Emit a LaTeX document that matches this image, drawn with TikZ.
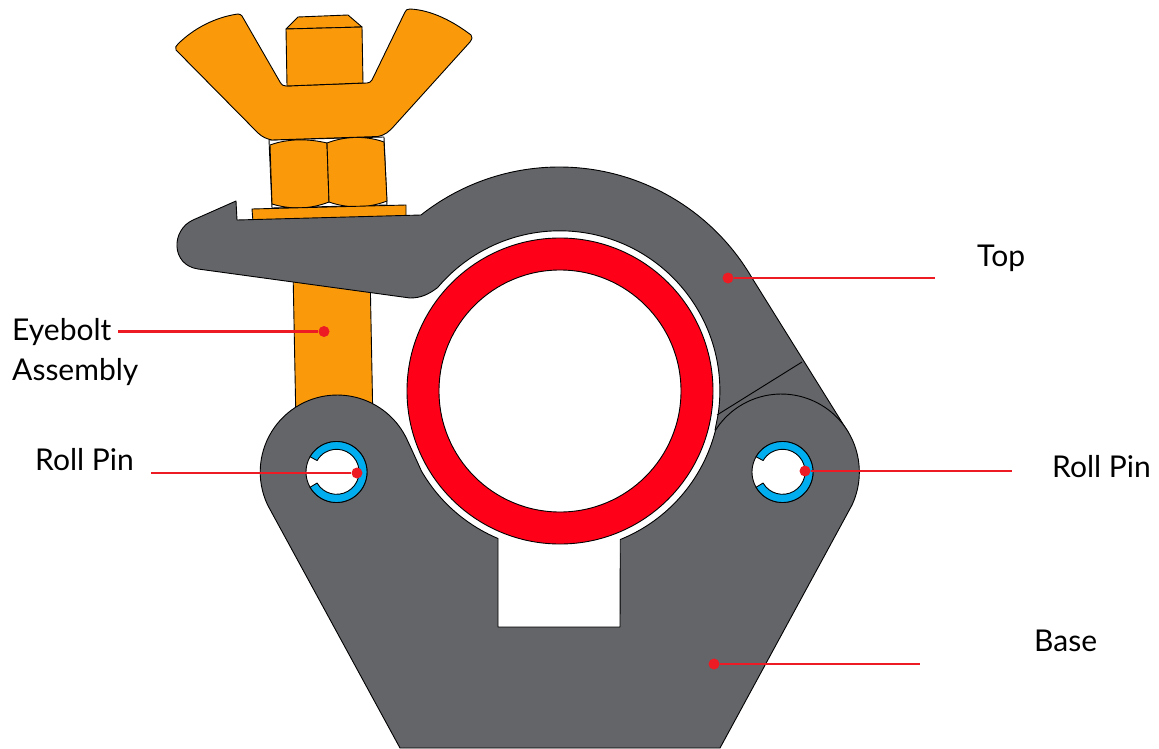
\documentclass[tikz,border=0pt]{standalone}
\usepackage{fontspec}
\setmainfont{Lato}
\definecolor{clampgray}{HTML}{636569}
\definecolor{boltorange}{HTML}{FA9A0A}
\definecolor{ringred}{HTML}{FF0019}
\definecolor{pinblue}{HTML}{00AEEF}
\definecolor{leadred}{HTML}{ED1C24}
\tikzset{
  outline/.style={draw=black,line width=0.9pt,line join=round},
  orangepart/.style={outline,fill=boltorange},
  graypart/.style={outline,fill=clampgray},
  bluepart/.style={outline,fill=pinblue},
  lead/.style={draw=leadred,line width=2.3pt},
  leaddot/.style={circle,fill=leadred,inner sep=0pt,minimum size=11pt},
  lbl/.style={font=\fontsize{30}{38}\selectfont,inner sep=0pt,anchor=west},
}
\begin{document}
\begin{tikzpicture}[x=1pt,y=1pt,yscale=-1]
\useasboundingbox (0,0) rectangle (1159,749);
% eyebolt shaft
\path[orangepart] (293,270) -- (296,425) -- (373,425) -- (370,270) -- cycle;
% hex nuts
\path[outline,fill=white] (269,140) -- (384,137) -- (387,205) -- (272,208) -- cycle;
\path[orangepart] (270,145) .. controls (288,138.5) and (308,138.5) .. (327,143) -- (329,202)
  .. controls (310,209.5) and (290,209.5) .. (272,204) -- cycle;
\path[orangepart] (327,143) .. controls (345,136) and (366,135.5) .. (384,142) -- (387,201)
  .. controls (368,208.5) and (347,208.5) .. (329,202) -- cycle;
% washer
\path[orangepart] (252,209) -- (406,205) -- (406,218) -- (253,222) -- cycle;
% wing nut
\path[orangepart] (176,50) .. controls (175,47) and (176,46) .. (178,44)
  .. controls (194,28) and (216,17) .. (238,14) .. controls (240,14) and (241,15) .. (242,16)
  -- (280,82) .. controls (282,85) and (283,86) .. (286,86)
  -- (367,83) .. controls (369,83) and (371,82) .. (372,80)
  -- (405,12) .. controls (406,10) and (407,9) .. (410,9)
  .. controls (432,10) and (454,22) .. (471,35) .. controls (473,37) and (472,39) .. (470,42)
  -- (395,125) .. controls (389,132) and (385,135) .. (378,136.5)
  -- (272,140) .. controls (267,139) and (262,137) .. (258,133) -- cycle;
% bolt end
\path[orangepart] (286,29) -- (298,17) -- (348,15) -- (362,27) -- cycle;
\path[orangepart] (286,29) -- (362,27) -- (363,83) -- (287,86) -- cycle;
% tube ring
\path[outline,fill=ringred,even odd rule] (560,391) circle[radius=153] (560,391) circle[radius=121];
% top clamp
\path[graypart] (236,201) -- (237,220) -- (421,215)
  arc[start angle=-128.3,end angle=-30.3,radius=223]
  -- (848,432) -- (781,440) -- (715,430) -- (718,415)
  arc[start angle=8.7,end angle=-139.8,radius=160]
  .. controls (428,295) and (420,298) .. (410,298)
  -- (198,269) .. controls (170.8,265) and (170.8,230) .. (193,220) -- cycle;
\coordinate (seamA) at (802,362);
\coordinate (seamB) at (717,415);
\draw[outline] (seamA) -- (seamB);
% base
\path[graypart] (400,748) -- (720,748) -- (852,505)
  arc[start angle=25,end angle=-147.5,radius=78]
  arc[start angle=14.1,end angle=68,radius=160]
  -- (620,627) -- (498,627) -- (498,538.5)
  arc[start angle=112.8,end angle=150,radius=160]
  .. controls (416,459) and (411,448) .. (407,439.5)
  arc[start angle=-25,end angle=-205.6,radius=77] -- cycle;
% roll pins
\path[outline,fill=white] (336.5,472) circle[radius=30.5];
\path[bluepart] (336.5,472) ++(-150:30.5) arc[start angle=-150,end angle=150,radius=30.5]
  -- ++(7,-4.2) arc[start angle=150,end angle=-150,radius=22.5] -- cycle;
\path[outline,fill=white] (782.5,472) circle[radius=30.5];
\path[bluepart] (782.5,472) ++(-150:30.5) arc[start angle=-150,end angle=150,radius=30.5]
  -- ++(7,-4.2) arc[start angle=150,end angle=-150,radius=22.5] -- cycle;
% leaders
\node[leaddot] (dotTop) at (728,278) {};
\node[leaddot] (dotBase) at (714,664) {};
\node[leaddot] (dotEye) at (324,331.5) {};
\node[leaddot] (dotPinL) at (357,473) {};
\node[leaddot] (dotPinR) at (805,471) {};
\coordinate (endTop) at (935,278);
\coordinate (endBase) at (920,664);
\coordinate (endEye) at (118,331.5);
\coordinate (endPinL) at (151,473);
\coordinate (endPinR) at (1012,471);
\draw[lead] (dotTop) -- (endTop);
\draw[lead] (dotBase) -- (endBase);
\draw[lead] (dotEye) -- (endEye);
\draw[lead] (dotPinL) -- (endPinL);
\draw[lead] (dotPinR) -- (endPinR);
% labels
\node[lbl] (lblTop) at (977,258.5) {Top};
\node[lbl] (lblBase) at (1034,640.5) {Base};
\node[lbl] (lblEye) at (12,332.5) {Eyebolt};
\node[lbl] (lblAsm) at (12,372.5) {Assembly};
\node[lbl] (lblPinL) at (35,459.5) {Roll Pin};
\node[lbl] (lblPinR) at (1052,467) {Roll Pin};
\end{tikzpicture}
\end{document}
